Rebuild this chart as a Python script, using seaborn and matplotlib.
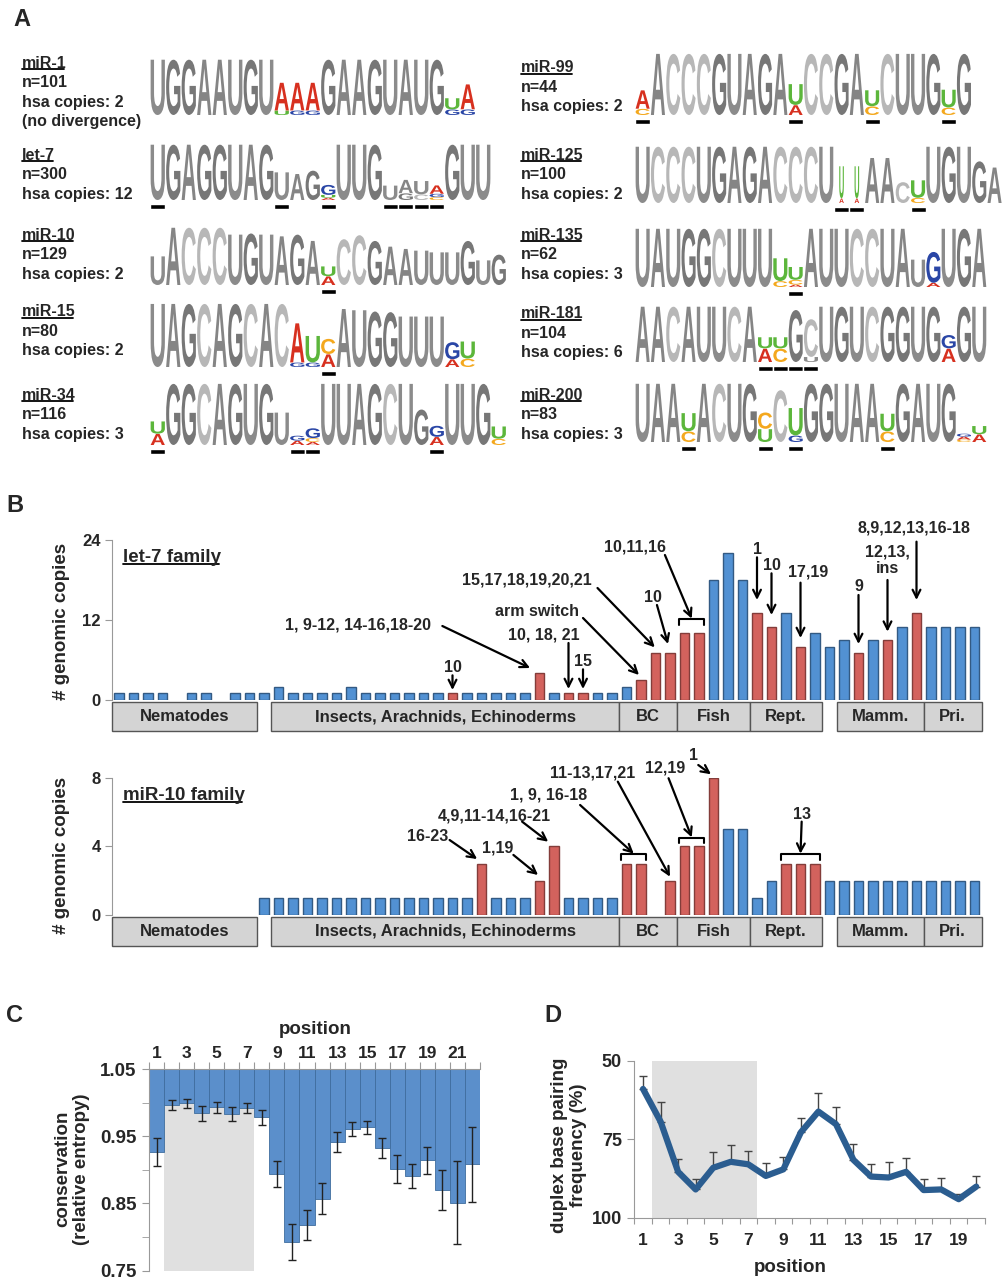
import re
import numpy as np
import pandas as pd
import matplotlib
matplotlib.use('Agg')
import matplotlib.pyplot as plt
import seaborn as sns
from matplotlib.textpath import TextPath
from matplotlib.patches import PathPatch, Rectangle
from matplotlib.font_manager import FontProperties
from matplotlib.transforms import Affine2D, IdentityTransform
from matplotlib.lines import Line2D

sns.set_style('white')
plt.rcParams['font.family'] = ['Liberation Sans', 'DejaVu Sans']
plt.rcParams['font.weight'] = 'bold'

# ---------------- data ----------------
# A: sequence logos, one token per column (letter + height in %, '*' = coloured, '|' = thin)
mir1_cols = ["U", "G", "G", "A", "A", "U", "G", "U", "*A50U8", "*A50G8", "*A50G8", "G", "A", "A", "G", "U",
             "A", "U", "G", "*U20G10", "*A45G10"]
let7_cols = ["U", "G", "A", "G", "G", "U", "A", "G", "U50", "A47", "G53", "*G18U5A4", "U", "U", "G", "U26",
             "A24G12", "U24C10", "*A15G6C5", "G", "U", "U"]
mir10_cols = ["U50", "A", "C", "C", "C", "U88", "G90", "U88", "A85", "G88", "A77", "*U17A15", "C80", "C87",
              "G77", "A67", "A63", "U60", "U57", "U57", "G77", "U43", "G53"]
mir15_cols = ["U", "A", "G", "C", "A", "G", "C", "A", "C", "*A62G7", "*U42G7", "*C24A20", "A92", "U90", "G88",
              "G87", "U80", "U80", "U80", "*G27A12", "*U27C13"]
mir34_cols = ["*U20A18", "G", "G", "C", "A", "G", "U", "G", "U53", "*G8A7", "*G16C6A5", "U", "U", "A", "G", "C",
              "U", "G58", "*G18A13", "U", "U", "G", "*U20C10"]
mir99_cols = ["*A30C10", "A", "C", "C", "C", "G", "U", "A", "G", "A", "*U34A16", "C", "C", "G", "A", "*U26C14",
              "C", "U", "U", "G", "*U29C12", "G"]
mir125_cols = ["U", "C", "C", "C", "U", "G", "A", "G", "A", "C", "C", "C", "U", "|U57A8", "|U57A8", "A80", "A80",
               "C37", "*U31C9", "U", "G", "U", "G74", "A63"]
mir135_cols = ["U", "A", "U", "G", "G", "C", "U", "U", "U", "*U39C10", "*U22C8A4", "A", "U", "U", "C", "C", "U",
               "A", "U47", "*G53A7", "U", "G", "A"]
mir181_cols = ["A", "A", "C", "A", "U", "U", "C", "A", "*U20A24", "*U20C24", "G94", "C68U9", "U", "G", "U", "C",
               "G", "G", "U", "G", "*G24A24", "G", "U"]
mir200_cols = ["U", "A", "A", "*U31C18", "A", "C", "U", "G", "*C28U22", "C89", "*U47G11", "G", "G", "U", "A", "A",
               "*U30C18", "G", "A", "U", "G", "*G5A5C4", "*U14A13"]

mir1_bars = []
let7_bars = [0, 8, 11, 15, 16, 17, 18]
mir10_bars = [11]
mir15_bars = [11]
mir34_bars = [0, 9, 10, 18]
mir99_bars = [0, 10, 15, 20]
mir125_bars = [13, 14, 18]
mir135_bars = [10]
mir181_bars = [8, 9, 10, 11]
mir200_bars = [3, 8, 10, 16]

logo_names = ["miR-1", "let-7", "miR-10", "miR-15", "miR-34", "miR-99", "miR-125", "miR-135", "miR-181", "miR-200"]
logo_n = [101, 300, 129, 80, 116, 44, 100, 62, 104, 83]
logo_hsa = [2, 12, 2, 2, 3, 2, 2, 3, 6, 3]

# B: genomic copies per species slot
slots = list(range(60))
let7_copies = [1, 1, 1, 1, 0, 1, 1, 0, 1, 1, 1, 2, 1, 1, 1, 1, 2, 1, 1, 1, 1, 1, 1, 1, 1, 1, 1, 1, 1, 4,
               1, 1, 1, 1, 1, 2, 3, 7, 7, 10, 10, 18, 22, 18, 13, 11, 13, 8, 10, 8, 9, 7, 9, 9, 11, 13, 11, 11, 11, 11]
let7_red = [23, 29, 31, 32, 36, 37, 38, 39, 40, 44, 45, 47, 51, 53, 55]
mir10_copies = [0] * 10 + [1] * 15 + [3, 1, 1, 1, 2, 4, 1, 1, 1, 1, 3, 3, 0, 2, 4, 4, 8, 5, 5, 1, 2, 3, 3, 3] + [2] * 11
mir10_red = [25, 29, 30, 35, 36, 38, 39, 40, 41, 46, 47, 48]

group_names = ["Nematodes", "Insects, Arachnids, Echinoderms", "BC", "Fish", "Rept.", "Mamm.", "Pri."]
group_start = [-0.5, 10.5, 34.5, 38.5, 43.5, 49.5, 55.5]
group_end = [9.5, 34.5, 38.5, 43.5, 48.5, 55.5, 59.5]

# annotations: label, text x, text y, tail x, tail y, target slot, dx, dy
let7_notes = [
    ("10", 23, 4.8, 23, 3.7, 23, 0, 0.5),
    ("1, 9-12, 14-16,18-20", 16.5, 11.25, 22.3, 11.1, 29, -0.65, 0.8),
    ("15,17,18,19,20,21", 28.1, 18.0, 33.0, 16.8, 37, -0.05, 0.9),
    ("arm switch", 28.8, 13.2, 32.0, 12.3, 36, -0.14, 0.75),
    ("10, 18, 21", 29.3, 9.75, 31, 8.55, 31, 0, 0.65),
    ("15", 32, 5.7, 32, 4.6, 32, 0, 0.65),
    ("10", 36.8, 15.45, 37.1, 14.25, 38, -0.14, 1.4),
    ("1", 44, 22.5, 44, 21.4, 44, 0, 2.0),
    ("10", 45, 20.25, 45, 19.0, 45, 0, 1.75),
    ("17,19", 47.5, 19.25, 47, 17.6, 47, 0, 1.3),
    ("9", 51, 17.0, 51, 15.75, 51, 0, 1.4),
    ("12,13,\nins", 53, 21.0, 53, 18.0, 53, 0, 1.25),
    ("8,9,12,13,16-18", 54.8, 25.8, 55, 23.75, 55, 0, 2.0),
]
let7_brackets = [("10,11,16", 35.6, 22.95, 37.65, 21.75, 39, 40, 2.15)]
mir10_notes = [
    ("16-23", 21.3, 4.56, 22.8, 4.37, 25, -0.3, 0.26),
    ("4,9,11-14,16-21", 25.9, 5.77, 27.8, 5.44, 30, -0.4, 0.27),
    ("1,19", 26.1, 3.89, 27.2, 3.5, 29, -0.1, 0.33),
    ("11-13,17,21", 32.65, 8.26, 34.4, 7.77, 38, 0, 0.23),
    ("1", 39.6, 9.32, 39.95, 8.74, 41, -0.17, 0.2),
]
mir10_brackets = [("1, 9, 16-18", 29.65, 7.0, 31.8, 6.41, 35, 36, 0.55),
                  ("12,19", 37.66, 8.55, 37.9, 7.97, 39, 40, 0.5),
                  ("13", 47.08, 5.83, 47.08, 5.44, 46, 48, 0.55)]

# C: conservation per position
cons_pos = list(range(1, 23))
cons_val = [0.927, 0.996, 0.999, 0.984, 0.993, 0.983, 0.992, 0.978, 0.894, 0.793, 0.818, 0.857, 0.942, 0.961,
            0.963, 0.933, 0.901, 0.891, 0.914, 0.870, 0.851, 0.908]
cons_err = [0.021, 0.0074, 0.007, 0.011, 0.008, 0.010, 0.0075, 0.011, 0.019, 0.027, 0.023, 0.023, 0.015, 0.010,
            0.009, 0.015, 0.021, 0.018, 0.020, 0.030, 0.062, 0.056]

# D: duplex base pairing frequency
pair_pos = list(range(1, 21))
pair_val = [59.0, 69.4, 85.4, 91.0, 84.1, 82.2, 83.0, 86.7, 84.6, 72.8, 66.2, 70.2, 81.6, 86.9, 87.2, 85.4,
            91.2, 91.0, 94.1, 90.1]
pair_err = [4.1, 6.3, 4.0, 3.2, 4.9, 5.4, 4.4, 4.0, 4.0, 4.6, 5.8, 5.4, 5.1, 4.0, 4.9, 4.4, 3.4, 3.8, 1.8, 3.5]

# ---------------- styles ----------------
W, H = 1003, 1280
BASE_COLORS = {'A': '#d7301f', 'C': '#f4a81d', 'G': '#2a46a6', 'U': '#5cb63b'}
GRAYS = {'A': '#858585', 'C': '#b7b7b7', 'G': '#777777', 'U': '#8b8b8b'}
BLUE, RED = '#5291d3', '#d3625d'
GRID_GRAY = '#999999'

fig = plt.figure(figsize=(W / 100, H / 100), dpi=100)
renderer = fig.canvas.get_renderer()


def px_axes(x0, y0, x1, y1):
    return fig.add_axes([x0 / W, 1 - y1 / H, (x1 - x0) / W, (y1 - y0) / H])


def ftext(x, y, s, **kw):
    kw.setdefault('fontweight', 'bold')
    return fig.text(x / W, 1 - y / H, s, **kw)


def underlined(x, y, s, size):
    t = ftext(x, y, s, fontsize=size, va='center', ha='left')
    bb = t.get_window_extent(renderer)
    fig.add_artist(Line2D([bb.x0 + 0.5, bb.x1 - 2.5], [bb.y0 + 2, bb.y0 + 2], transform=IdentityTransform(),
                          color='black', lw=1.3))


# ---------------- A: logos ----------------
fp = FontProperties(family='Liberation Sans', weight='bold')
glyphs = {}


def draw_letter(ax, letter, x, y, w, h, color):
    if letter not in glyphs:
        glyphs[letter] = TextPath((0, 0), letter, size=1, prop=fp)
    tp = glyphs[letter]
    bb = tp.get_extents()
    tr = Affine2D().translate(-bb.x0, -bb.y0).scale(w / bb.width, h / bb.height).translate(x, y)
    ax.add_patch(PathPatch(tp, facecolor=color, edgecolor='none', transform=tr + ax.transData))


def parse_col(tok):
    thin = tok.startswith('|')
    colored = tok.startswith('*') or thin
    parts = re.findall(r'([ACGU])(\d*)', tok)
    return [(l, int(h) / 100 if h else 1.0) for l, h in parts], colored, thin


def draw_logo(x0, top, base, colw, cols, bars):
    n = len(cols)
    ax = px_axes(x0, top, x0 + n * colw, base)
    ax.set_xlim(0, n)
    ax.set_ylim(0, 1)
    ax.axis('off')
    for i, tok in enumerate(cols):
        stack, colored, thin = parse_col(tok)
        w = 0.3 if thin else 0.92
        y = 0
        for letter, h in reversed(stack):
            c = BASE_COLORS[letter] if colored else GRAYS[letter]
            draw_letter(ax, letter, i + (1 - w) / 2, y, w, h * 0.97, c)
            y += h
    hpx = base - top
    if bars:
        ax.broken_barh([(b + 0.01, 0.98) for b in bars], (-9 / hpx, 5.5 / hpx),
                       facecolors='black', clip_on=False)


all_cols = [mir1_cols, let7_cols, mir10_cols, mir15_cols, mir34_cols,
            mir99_cols, mir125_cols, mir135_cols, mir181_cols, mir200_cols]
all_bars = [mir1_bars, let7_bars, mir10_bars, mir15_bars, mir34_bars,
            mir99_bars, mir125_bars, mir135_bars, mir181_bars, mir200_bars]
# layout: label x, title y, logo x0, logo top, logo baseline, column width
label_x = [22] * 5 + [521] * 5
title_y = [63, 155, 235, 312, 395, 68, 155, 235, 314, 395]
logo_x0 = [150] * 5 + [635] * 5
logo_top = [58, 143, 226, 302, 382, 52, 145, 227, 305, 382]
logo_base = [115, 200, 285, 367, 445, 115, 203, 287, 362, 442]
logo_colw = [15.5] * 5 + [15.3] * 5

for k in range(10):
    underlined(label_x[k], title_y[k], logo_names[k], 11.5)
    ftext(label_x[k], title_y[k] + 19.5, f"n={logo_n[k]}", fontsize=11.5, va='center')
    ftext(label_x[k], title_y[k] + 39, f"hsa copies: {logo_hsa[k]}", fontsize=11.5, va='center')
    draw_logo(logo_x0[k], logo_top[k], logo_base[k], logo_colw[k], all_cols[k], all_bars[k])
ftext(label_x[0], title_y[0] + 58.5, "(no divergence)", fontsize=11.5, va='center')


# ---------------- B: copy numbers ----------------
def family_panel(y_top, y_zero, ytop, yticks, copies, red, notes, brackets, title, title_y, ylab_y):
    ax = px_axes(111.75, y_top, 981.75, y_zero)
    hpx = y_zero - y_top
    ppu = hpx / ytop
    df = pd.DataFrame({'slot': slots, 'copies': copies})
    df['kind'] = np.where(df['slot'].isin(red), 'red', 'blue')
    df = df[df['copies'] > 0]
    sns.barplot(data=df, x='slot', y='copies', hue='kind', order=slots, hue_order=['blue', 'red'],
                palette={'blue': BLUE, 'red': RED}, dodge=False, width=0.68, errorbar=None,
                legend=False, saturation=1, linewidth=1, ax=ax)
    for p in ax.patches:
        fc = p.get_facecolor()
        p.set_edgecolor(tuple(c * 0.62 for c in fc[:3]))
    ax.set_xlim(-0.5, 59.5)
    ax.set_ylim(0, ytop)
    ax.set_xticks([])
    ax.set_xlabel('')
    ax.set_ylabel('')
    ax.set_yticks(yticks)
    ax.tick_params(axis='y', length=5, color=GRID_GRAY, labelsize=12, pad=3, left=True)
    for s in ['top', 'right', 'bottom']:
        ax.spines[s].set_visible(False)
    ax.spines['left'].set_color(GRID_GRAY)
    ax.spines['left'].set_bounds(0, ytop)
    tr = ax.get_xaxis_transform()
    for name, a, b in zip(group_names, group_start, group_end):
        ax.add_patch(Rectangle((a, -31 / hpx), b - a, 29 / hpx, transform=tr, facecolor='#d4d4d4',
                               edgecolor='#555555', lw=1, clip_on=False))
        ax.text((a + b) / 2, -16.5 / hpx, name, transform=tr, ha='center', va='center', fontsize=12)
    arrow = dict(arrowstyle='->', color='black', lw=1.6, shrinkA=0, shrinkB=0, mutation_scale=14)
    for lab, tx, ty, sx, sy, tgt, dx, dy in notes:
        ax.text(tx, ty, lab, ha='center', va='center', fontsize=11.5, linespacing=1.15)
        ax.annotate('', xy=(tgt + dx, copies[tgt] + dy), xytext=(sx, sy), arrowprops=arrow,
                    annotation_clip=False)
    leg = 5.5 / ppu
    for lab, tx, ty, sx, sy, a, b, off in brackets:
        yb = max(copies[a:b + 1]) + off
        ax.plot([a - 0.35, a - 0.35, b + 0.35, b + 0.35], [yb - leg, yb, yb, yb - leg],
                color='black', lw=1.5, clip_on=False)
        ax.text(tx, ty, lab, ha='center', va='center', fontsize=11.5)
        ax.annotate('', xy=((a + b) / 2, yb + 0.4 / ppu), xytext=(sx, sy), arrowprops=arrow,
                    annotation_clip=False)
    underlined(123, title_y, title, 13.5)
    ftext(62, ylab_y, "# genomic copies", rotation=90, ha='center', va='center', fontsize=13.5)
    return ax


family_panel(540, 700, 24, [0, 12, 24], let7_copies, let7_red, let7_notes, let7_brackets,
             "let-7 family", 557, 621)
family_panel(777.7, 915, 8, [0, 4, 8], mir10_copies, mir10_red, mir10_notes, mir10_brackets,
             "miR-10 family", 795, 855)

# ---------------- C: conservation ----------------
axC = px_axes(149, 1069, 480, 1270.7)
axC.axvspan(1.5, 7.5, color='#e0e0e0', zorder=0, lw=0)
axC.bar(cons_pos, np.array(cons_val) - 1.05, bottom=1.05, width=1.0, color='#5b8fcb',
        edgecolor='#3f6d9e', linewidth=0.6, zorder=2)
axC.errorbar(cons_pos, cons_val, yerr=cons_err, fmt='none', ecolor='#222222', elinewidth=1,
             capsize=3, capthick=1, zorder=3)
axC.set_xlim(0.5, 22.5)
axC.set_ylim(0.75, 1.05)
axC.set_xticks(np.arange(0.5, 23, 1))
axC.set_xticklabels([])
axC.set_xticks(range(1, 23, 2), minor=True)
axC.set_xticklabels([str(i) for i in range(1, 23, 2)], minor=True)
axC.tick_params(axis='x', which='both', top=True, bottom=False, labeltop=True, labelbottom=False)
axC.tick_params(axis='x', which='major', length=5, color=GRID_GRAY)
axC.tick_params(axis='x', which='minor', length=0, labelsize=12.5, pad=6)
axC.set_yticks([0.75, 0.85, 0.95, 1.05])
axC.set_yticklabels(['0.75', '0.85', '0.95', '1.05'])
axC.set_yticks([0.8, 0.9, 1.0], minor=True)
axC.tick_params(axis='y', which='both', left=True, length=5, color=GRID_GRAY, labelsize=13.5, pad=4)
for s in ['right', 'bottom']:
    axC.spines[s].set_visible(False)
for s in ['top', 'left']:
    axC.spines[s].set_color(GRID_GRAY)
ftext(315, 1030, "position", ha='center', va='center', fontsize=13.5)
ftext(72, 1169, "conservation\n(relative entropy)", rotation=90, ha='center', va='center',
      fontsize=13.5, linespacing=1.1)

# ---------------- D: duplex pairing ----------------
axD = px_axes(634.3, 1060.7, 985, 1217.7)
axD.axvspan(1.5, 7.5, color='#e0e0e0', zorder=0, lw=0)
axD.errorbar(pair_pos, pair_val, yerr=[pair_err, np.zeros(len(pair_err))], fmt='none',
             ecolor='#444444', elinewidth=1, capsize=3, capthick=1, zorder=2)
sns.lineplot(x=pair_pos, y=pair_val, color='#2b5d90', linewidth=4.5, ax=axD, zorder=3)
axD.set_xlim(0.5, 20.5)
axD.set_ylim(100, 50)
axD.set_xticks(np.arange(0.5, 21, 1))
axD.set_xticklabels([])
axD.set_xticks(range(1, 21, 2), minor=True)
axD.set_xticklabels([str(i) for i in range(1, 21, 2)], minor=True)
axD.tick_params(axis='x', which='major', bottom=True, length=4, color=GRID_GRAY)
axD.tick_params(axis='x', which='minor', bottom=True, length=0, labelsize=12.5, pad=11)
axD.set_yticks([50, 75, 100])
axD.tick_params(axis='y', left=True, length=5, color=GRID_GRAY, labelsize=13, pad=4)
for s in ['right', 'top']:
    axD.spines[s].set_visible(False)
for s in ['left', 'bottom']:
    axD.spines[s].set_color(GRID_GRAY)
axD.set_xlabel('')
axD.set_ylabel('')
ftext(790, 1267, "position", ha='center', va='center', fontsize=13.5)
ftext(569, 1145, "duplex base pairing\nfrequency (%)", rotation=90, ha='center', va='center',
      fontsize=13.5, linespacing=1.1)

# panel letters
ftext(22, 19, "A", ha='center', va='center', fontsize=17)
ftext(15, 506, "B", ha='center', va='center', fontsize=17)
ftext(15, 1015, "C", ha='center', va='center', fontsize=17)
ftext(553, 1016, "D", ha='center', va='center', fontsize=17)

fig.savefig('out.png', dpi=100)
